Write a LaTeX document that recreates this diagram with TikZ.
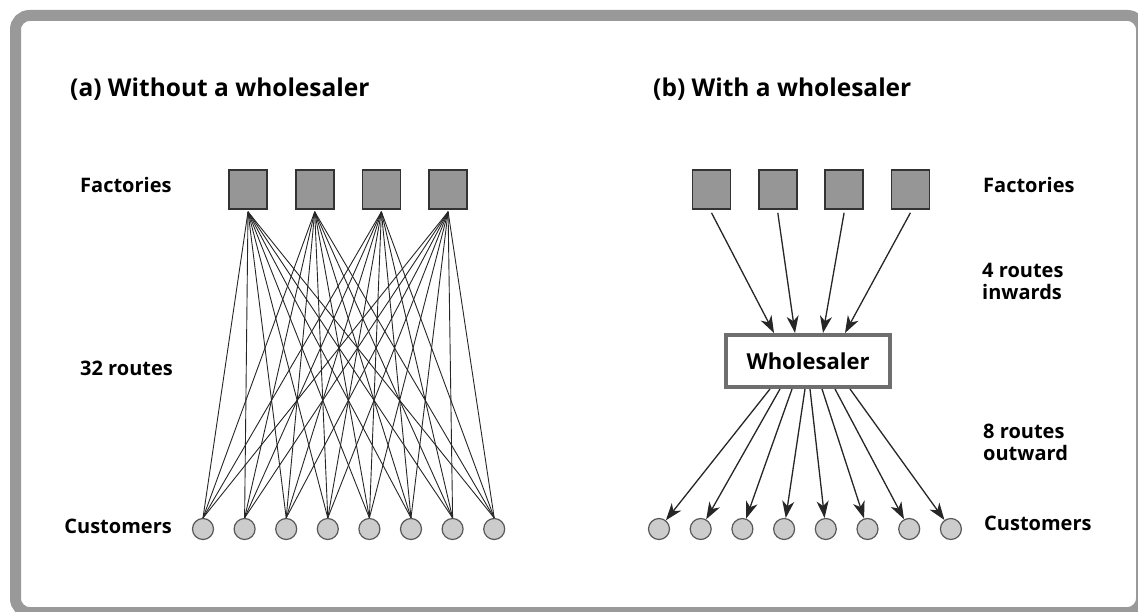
\documentclass[tikz,border=0pt]{standalone}
\usepackage{fontspec}
\setmainfont{Open Sans}
\usepackage{tikz}
\usetikzlibrary{positioning, arrows.meta, calc}
\definecolor{cadre}{RGB}{153, 153, 153}
\definecolor{usine}{RGB}{150, 150, 150}
\definecolor{client}{RGB}{204, 204, 204}
\definecolor{bordgros}{RGB}{110, 110, 110}

\tikzset{
  factory/.style={draw=black!80, fill=usine, line width=1.6pt, minimum width=38pt, minimum height=39pt, inner sep=0pt},
  customer/.style={circle, draw=black!65, fill=client, line width=1.2pt, minimum size=21pt, inner sep=0pt},
  wholebox/.style={draw=bordgros, fill=white, line width=4pt, minimum width=164pt, minimum height=52pt, font=\bfseries\fontsize{22}{24}\selectfont},
  lbl/.style={font=\bfseries\fontsize{20}{22}\selectfont, inner sep=0pt, align=left},
  titre/.style={font=\bfseries\fontsize{24.5}{26}\selectfont, inner sep=0pt},
  route/.style={line width=0.9pt, black!85},
  fleche/.style={line width=1.3pt, black!85, -{Stealth[length=17pt, width=12pt, inset=5pt]}}
}

\begin{document}
\begin{tikzpicture}[x=1pt, y=-1pt]
    \useasboundingbox (0,0) rectangle (1138,612);
    % cadre
    \draw[cadre, line width=11pt, rounded corners=14pt] (15.5,15.5) rectangle (1141.5,612.5);
    % titres
    \node[titre, anchor=base west] (ta) at (70,97) {(a) Without a wholesaler};
    \node[titre, anchor=base west] (tb) at (653,97) {(b) With a wholesaler};
    % (a) sans grossiste
    \foreach \i in {1,...,8}
      \node[customer] (ca\i) at ({203+41.6*(\i-1)},529) {};
    \foreach \i in {1,...,4}
      \node[factory] (fa\i) at ({248+66.7*(\i-1)},189.5) {};
    \foreach \f in {1,...,4}
      \foreach \c in {1,...,8}
        \draw[route] ([yshift=-2pt]fa\f.south) -- (ca\c.north);
    \node[lbl, anchor=base west] (lfa) at (80,193) {Factories};
    \node[lbl, anchor=base west] (lra) at (80,375) {32 routes};
    \node[lbl, anchor=base east] (lca) at (172,533) {Customers};
    % (b) avec grossiste
    \node[wholebox] (ws) at (808,361) {Wholesaler};
    \foreach \i in {1,...,4}
      \node[factory] (fb\i) at ({711.5+66.3*(\i-1)},189.5) {};
    \foreach \i in {1,...,8}
      \node[customer] (cb\i) at ({659+41.7*(\i-1)},529) {};
    \foreach \i/\dx in {1/-34, 2/-13, 3/15, 4/37}
      \draw[fleche] ([yshift=-3pt]fb\i.south) -- ([xshift=\dx pt]ws.north);
    \foreach \i/\dx in {1/-38, 2/-28, 3/-16, 4/-3, 5/2, 6/14, 7/27, 8/42}
      \draw[fleche] ([xshift=\dx pt]ws.south) -- (cb\i);
    \node[lbl, anchor=base west] (lfb) at (983,193) {Factories};
    \node[lbl, anchor=west] (lin) at (982,281) {4 routes\\inwards};
    \node[lbl, anchor=west] (lout) at (983,442) {8 routes\\outward};
    \node[lbl, anchor=base west] (lcb) at (984,530) {Customers};
\end{tikzpicture}
\end{document}
